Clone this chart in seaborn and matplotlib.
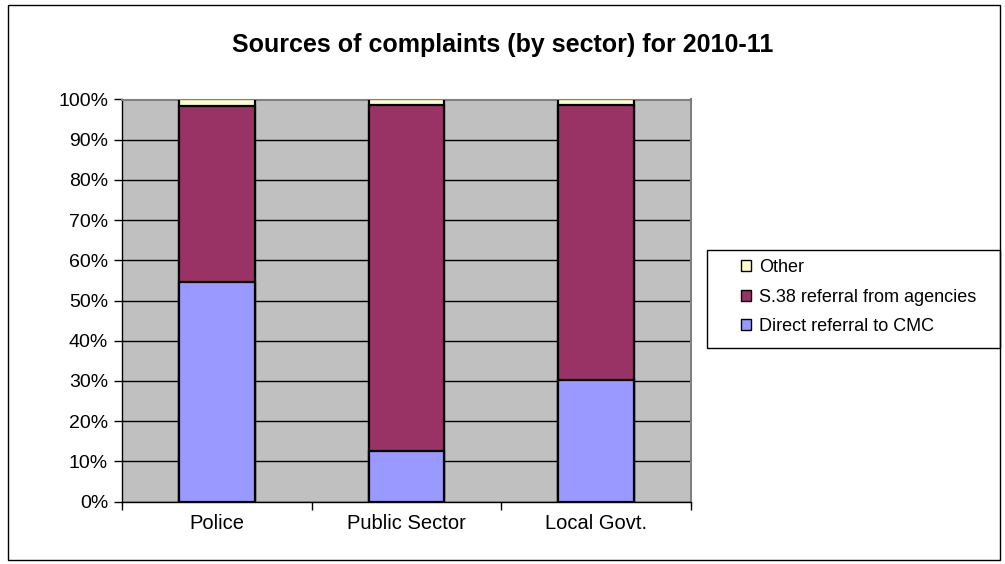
import matplotlib
matplotlib.use("Agg")
import matplotlib.pyplot as plt
from matplotlib.patches import Patch, Rectangle
import numpy as np
import pandas as pd
import seaborn as sns

# Share of complaints by source, per sector (percent)
sectors = ["Police", "Public Sector", "Local Govt."]
direct_cmc = [54.7, 12.6, 30.3]
s38_agencies = [43.8, 86.0, 68.3]
other = [1.5, 1.4, 1.4]

series_names = ["Direct referral to CMC", "S.38 referral from agencies", "Other"]
series_colors = ["#9999FF", "#993366", "#FFFFCC"]

sns.set_theme(style="white")
plt.rcParams["font.family"] = ["Liberation Sans", "DejaVu Sans"]
plt.rcParams["text.color"] = "black"
plt.rcParams["xtick.color"] = "black"
plt.rcParams["ytick.color"] = "black"

W, H = 1005, 564
fig = plt.figure(figsize=(W / 100, H / 100), dpi=100)
ax = fig.add_axes([122 / W, 1 - 501.5 / H, 569 / W, 402 / H])
ax.set_facecolor("#C0C0C0")

# Stacked bars drawn as overlapping cumulative totals (tallest first)
cum1 = np.array(direct_cmc)
cum2 = cum1 + np.array(s38_agencies)
cum3 = cum2 + np.array(other)
for totals, color in zip([cum3, cum2, cum1], series_colors[::-1]):
    df = pd.DataFrame({"sector": sectors, "value": totals})
    sns.barplot(data=df, x="sector", y="value", color=color, width=0.4,
                edgecolor="black", linewidth=1.6, saturation=1, ax=ax, zorder=3)

ax.set_ylim(0, 100)
ax.set_xlim(-0.5, 2.5)
ax.set_yticks(np.arange(0, 101, 10))
ax.set_yticklabels([f"{v}%" for v in range(0, 101, 10)], fontsize=14)
ax.yaxis.grid(True, color="black", linewidth=1, zorder=1)
ax.set_axisbelow(True)
ax.set_xlabel("")
ax.set_ylabel("")
ax.tick_params(axis="y", which="major", direction="out", length=6, width=1,
               color="black", left=True, pad=4)
ax.set_xticks(range(len(sectors)))
ax.set_xticklabels(sectors, fontsize=14.5)
ax.tick_params(axis="x", which="major", length=0, pad=9)
ax.set_xticks([-0.5, 0.5, 1.5, 2.5], minor=True)
ax.tick_params(axis="x", which="minor", direction="out", length=6, width=1,
               color="black", bottom=True)

for side in ["top", "right"]:
    ax.spines[side].set_color("#808080")
    ax.spines[side].set_linewidth(1.5)
for side in ["left", "bottom"]:
    ax.spines[side].set_color("black")
    ax.spines[side].set_linewidth(1)

fig.text(0.5, 1 - 45 / H, "Sources of complaints (by sector) for 2010-11",
         ha="center", va="center", fontsize=18, fontweight="bold")

# Legend entries (top to bottom: Other, S.38, Direct)
handles = [Patch(facecolor=c, edgecolor="black", linewidth=1)
           for c in series_colors[::-1]]
leg = fig.legend(handles, series_names[::-1], loc="upper left",
                 bbox_to_anchor=(741 / W, 1 - 259 / H), frameon=False,
                 fontsize=13, handlelength=0.55, handleheight=0.55,
                 handletextpad=0.45, labelspacing=0.7, borderpad=0,
                 borderaxespad=0)

# Legend box
fig.patches.append(Rectangle((707 / W, 1 - 348 / H), 293 / W, 98 / H,
                             transform=fig.transFigure, fill=False,
                             edgecolor="black", linewidth=1))

# Outer chart border
fig.patches.append(Rectangle((8 / W, 4 / H), 992 / W, 555 / H,
                             transform=fig.transFigure, fill=False,
                             edgecolor="black", linewidth=1))

fig.savefig("out.png", dpi=100)
